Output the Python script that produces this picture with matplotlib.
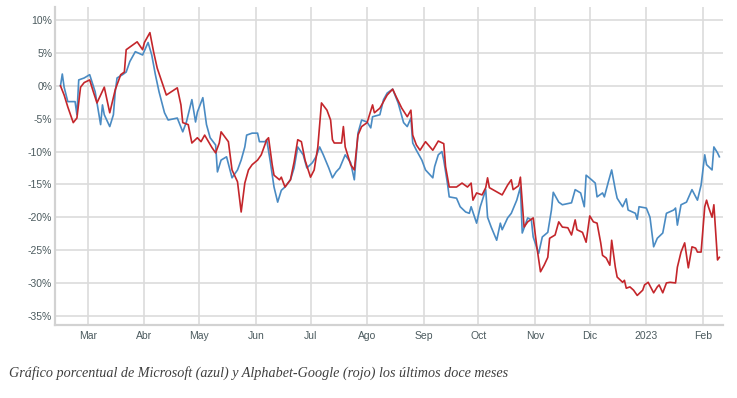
import matplotlib
matplotlib.use("Agg")
import matplotlib.pyplot as plt  # noqa: E402
import pandas as pd  # noqa: E402

# ── Data (percent change since start) ───────────────────────────────

MSFT_DATES = [
    "2022-02-14", "2022-02-15", "2022-02-16", "2022-02-18", "2022-02-22", "2022-02-23",
    "2022-02-24", "2022-02-27", "2022-03-02", "2022-03-05", "2022-03-08", "2022-03-09",
    "2022-03-10", "2022-03-13", "2022-03-15", "2022-03-16", "2022-03-17", "2022-03-20",
    "2022-03-22", "2022-03-24", "2022-03-27", "2022-03-31", "2022-04-03", "2022-04-05",
    "2022-04-07", "2022-04-09", "2022-04-12", "2022-04-14", "2022-04-19", "2022-04-22",
    "2022-04-24", "2022-04-27", "2022-04-29", "2022-04-30", "2022-05-03", "2022-05-05",
    "2022-05-07", "2022-05-10", "2022-05-11", "2022-05-13", "2022-05-16", "2022-05-19",
    "2022-05-22", "2022-05-24", "2022-05-26", "2022-05-27", "2022-05-30", "2022-06-02",
    "2022-06-03", "2022-06-06", "2022-06-07", "2022-06-09", "2022-06-11", "2022-06-13",
    "2022-06-15", "2022-06-17", "2022-06-20", "2022-06-22", "2022-06-24", "2022-06-27",
    "2022-06-29", "2022-07-02", "2022-07-04", "2022-07-06", "2022-07-08", "2022-07-11",
    "2022-07-13", "2022-07-15", "2022-07-17", "2022-07-20", "2022-07-23", "2022-07-25",
    "2022-07-27", "2022-07-29", "2022-08-01", "2022-08-03", "2022-08-04", "2022-08-08",
    "2022-08-10", "2022-08-12", "2022-08-15", "2022-08-18", "2022-08-21", "2022-08-23",
    "2022-08-25", "2022-08-26", "2022-08-28", "2022-08-31", "2022-09-02", "2022-09-06",
    "2022-09-07", "2022-09-09", "2022-09-11", "2022-09-12", "2022-09-14", "2022-09-15",
    "2022-09-19", "2022-09-21", "2022-09-24", "2022-09-26", "2022-09-27", "2022-09-30",
    "2022-10-02", "2022-10-05", "2022-10-06", "2022-10-08", "2022-10-11", "2022-10-13",
    "2022-10-14", "2022-10-17", "2022-10-19", "2022-10-22", "2022-10-24", "2022-10-25",
    "2022-10-28", "2022-10-30", "2022-10-31", "2022-11-03", "2022-11-05", "2022-11-08",
    "2022-11-10", "2022-11-11", "2022-11-14", "2022-11-16", "2022-11-21", "2022-11-23",
    "2022-11-26", "2022-11-28", "2022-11-29", "2022-12-02", "2022-12-04", "2022-12-05",
    "2022-12-08", "2022-12-09", "2022-12-11", "2022-12-13", "2022-12-15", "2022-12-16",
    "2022-12-19", "2022-12-21", "2022-12-22", "2022-12-26", "2022-12-27", "2022-12-28",
    "2023-01-01", "2023-01-03", "2023-01-05", "2023-01-07", "2023-01-10", "2023-01-12",
    "2023-01-16", "2023-01-17", "2023-01-18", "2023-01-20", "2023-01-23", "2023-01-26",
    "2023-01-29", "2023-01-31", "2023-02-02", "2023-02-03", "2023-02-06", "2023-02-07",
    "2023-02-09", "2023-02-10",
]
MSFT_PCT = [
    0.0, 1.8, -0.2, -2.4, -2.4, -4.4,
    0.9, 1.2, 1.7, -0.9, -5.9, -2.9,
    -4.4, -6.2, -4.4, -0.9, 1.2, 1.7,
    2.1, 3.7, 5.2, 4.7, 6.6, 4.7,
    1.7, -0.9, -4.1, -5.2, -4.9, -7.0,
    -5.5, -2.1, -5.5, -4.0, -1.8, -5.9,
    -7.9, -9.0, -13.1, -11.3, -10.8, -14.0,
    -12.8, -11.3, -9.3, -7.5, -7.2, -7.2,
    -8.5, -8.5, -8.2, -11.6, -15.4, -17.7,
    -15.9, -15.4, -14.3, -12.5, -9.3, -10.5,
    -12.5, -11.7, -10.8, -9.3, -10.5, -12.5,
    -14.0, -13.1, -12.5, -10.5, -11.7, -14.3,
    -7.2, -5.2, -5.5, -6.4, -4.7, -4.4,
    -2.1, -1.1, -0.5, -2.6, -5.6, -6.2,
    -4.9, -8.7, -9.8, -11.3, -12.8, -14.0,
    -12.3, -10.5, -10.0, -11.3, -14.8, -16.9,
    -17.1, -18.4, -19.2, -19.4, -18.4, -20.9,
    -18.4, -15.8, -20.0, -21.5, -23.5, -20.9,
    -21.9, -20.1, -19.4, -17.4, -15.4, -22.4,
    -20.1, -20.4, -23.0, -25.5, -23.0, -22.3,
    -18.9, -16.2, -17.7, -18.1, -17.8, -15.8,
    -16.3, -18.4, -13.6, -14.3, -14.8, -16.9,
    -16.3, -16.9, -14.8, -12.8, -15.8, -17.1,
    -18.4, -17.2, -18.9, -19.4, -20.3, -18.4,
    -18.6, -20.0, -24.5, -23.2, -22.4, -19.4,
    -18.9, -18.6, -21.2, -18.1, -17.7, -15.8,
    -17.4, -15.1, -10.5, -12.0, -12.8, -9.3,
    -10.2, -10.8,
]

GOOGL_DATES = [
    "2022-02-14", "2022-02-16", "2022-02-18", "2022-02-21", "2022-02-23", "2022-02-25",
    "2022-02-27", "2022-03-02", "2022-03-04", "2022-03-06", "2022-03-10", "2022-03-13",
    "2022-03-16", "2022-03-19", "2022-03-21", "2022-03-22", "2022-03-28", "2022-03-31",
    "2022-04-01", "2022-04-04", "2022-04-06", "2022-04-08", "2022-04-13", "2022-04-19",
    "2022-04-21", "2022-04-22", "2022-04-25", "2022-04-27", "2022-04-30", "2022-05-02",
    "2022-05-04", "2022-05-08", "2022-05-10", "2022-05-12", "2022-05-13", "2022-05-17",
    "2022-05-19", "2022-05-22", "2022-05-24", "2022-05-26", "2022-05-28", "2022-05-30",
    "2022-06-02", "2022-06-04", "2022-06-07", "2022-06-08", "2022-06-10", "2022-06-11",
    "2022-06-14", "2022-06-15", "2022-06-17", "2022-06-20", "2022-06-22", "2022-06-24",
    "2022-06-26", "2022-06-28", "2022-07-01", "2022-07-03", "2022-07-05", "2022-07-07",
    "2022-07-10", "2022-07-12", "2022-07-13", "2022-07-14", "2022-07-18", "2022-07-19",
    "2022-07-20", "2022-07-23", "2022-07-25", "2022-07-26", "2022-07-27", "2022-07-29",
    "2022-08-01", "2022-08-04", "2022-08-05", "2022-08-08", "2022-08-12", "2022-08-15",
    "2022-08-17", "2022-08-20", "2022-08-23", "2022-08-25", "2022-08-26", "2022-08-28",
    "2022-08-30", "2022-09-02", "2022-09-06", "2022-09-09", "2022-09-12", "2022-09-13",
    "2022-09-15", "2022-09-19", "2022-09-22", "2022-09-25", "2022-09-27", "2022-09-28",
    "2022-09-30", "2022-10-03", "2022-10-05", "2022-10-06", "2022-10-07", "2022-10-14",
    "2022-10-17", "2022-10-19", "2022-10-20", "2022-10-23", "2022-10-24", "2022-10-26",
    "2022-10-28", "2022-10-31", "2022-11-02", "2022-11-04", "2022-11-06", "2022-11-08",
    "2022-11-09", "2022-11-12", "2022-11-14", "2022-11-16", "2022-11-19", "2022-11-21",
    "2022-11-23", "2022-11-24", "2022-11-27", "2022-11-29", "2022-12-01", "2022-12-03",
    "2022-12-05", "2022-12-07", "2022-12-08", "2022-12-10", "2022-12-12", "2022-12-13",
    "2022-12-15", "2022-12-16", "2022-12-19", "2022-12-20", "2022-12-21", "2022-12-23",
    "2022-12-25", "2022-12-27", "2022-12-30", "2022-12-31", "2023-01-02", "2023-01-05",
    "2023-01-07", "2023-01-08", "2023-01-10", "2023-01-12", "2023-01-14", "2023-01-17",
    "2023-01-18", "2023-01-20", "2023-01-22", "2023-01-24", "2023-01-26", "2023-01-28",
    "2023-01-29", "2023-01-31", "2023-02-02", "2023-02-03", "2023-02-04", "2023-02-06",
    "2023-02-07", "2023-02-09", "2023-02-10",
]
GOOGL_PCT = [
    0.0, -1.4, -3.2, -5.6, -4.9, -0.2,
    0.5, 0.9, -0.9, -2.6, -0.2, -4.1,
    -0.6, 1.7, 2.1, 5.5, 6.7, 5.5,
    6.6, 8.1, 5.2, 2.7, -1.4, -0.3,
    -2.9, -5.6, -5.9, -8.7, -7.9, -8.5,
    -7.5, -9.4, -10.2, -8.7, -7.0, -8.5,
    -12.8, -14.6, -19.2, -14.8, -12.8, -12.0,
    -11.3, -10.5, -8.2, -7.9, -12.0, -13.6,
    -14.3, -13.9, -15.4, -14.3, -11.6, -8.2,
    -8.5, -11.3, -13.9, -12.8, -9.3, -2.6,
    -3.7, -5.2, -8.2, -8.7, -8.7, -6.2,
    -9.3, -12.0, -12.8, -10.2, -7.5, -6.2,
    -5.6, -2.9, -4.1, -3.4, -1.4, -0.5,
    -1.7, -3.4, -4.7, -3.7, -7.5, -9.0,
    -9.8, -8.5, -9.8, -8.4, -8.8, -12.3,
    -15.4, -15.4, -14.8, -15.4, -14.8, -17.4,
    -16.3, -16.6, -15.5, -14.0, -15.5, -16.6,
    -15.1, -14.3, -15.8, -15.2, -13.9, -21.5,
    -20.7, -20.1, -24.5, -28.3, -27.3, -26.1,
    -23.2, -22.7, -20.7, -21.5, -21.6, -22.7,
    -20.4, -21.9, -22.3, -23.8, -19.8, -20.7,
    -20.9, -23.9, -25.8, -26.2, -27.3, -23.5,
    -27.6, -29.1, -29.9, -29.6, -30.8, -30.6,
    -31.1, -31.9, -31.1, -30.3, -29.9, -31.5,
    -30.6, -30.3, -31.5, -30.0, -29.9, -30.0,
    -27.6, -25.3, -23.9, -27.7, -24.5, -24.7,
    -25.3, -25.3, -18.4, -17.4, -18.4, -20.0,
    -18.1, -26.5, -26.1,
]

MONTH_TICKS = [
    "2022-03-01", "2022-04-01", "2022-05-01", "2022-06-01", "2022-07-01", "2022-08-01",
    "2022-09-01", "2022-10-01", "2022-11-01", "2022-12-01", "2023-01-01", "2023-02-01",
]
MONTH_LABELS = ["Mar", "Abr", "May", "Jun", "Jul", "Ago", "Sep", "Oct", "Nov", "Dic", "2023", "Feb"]
Y_TICKS = [10, 5, 0, -5, -10, -15, -20, -25, -30, -35]
X_RANGE = ["2022-02-11", "2023-02-12"]
Y_RANGE = (-36.4, 12.0)

CAPTION = "Gráfico porcentual de Microsoft (azul) y Alphabet-Google (rojo) los últimos doce meses"

BLUE = "#4a8bc3"
RED = "#c4262b"
GRID = "#dcdcdc"
TEXT = "#4b5a5e"

# ── Plot ────────────────────────────────────────────────────────────

fig = plt.figure(figsize=(7.37, 3.98), dpi=100)
fig.patch.set_facecolor("white")
ax = fig.add_axes([55 / 737, 73 / 398, 668 / 737, 318 / 398])

ax.plot(pd.to_datetime(MSFT_DATES), MSFT_PCT, color=BLUE, linewidth=1.2, zorder=3)
ax.plot(pd.to_datetime(GOOGL_DATES), GOOGL_PCT, color=RED, linewidth=1.2, zorder=4)

ax.set_xlim(pd.to_datetime(X_RANGE[0]), pd.to_datetime(X_RANGE[1]))
ax.set_ylim(*Y_RANGE)

ax.set_xticks(pd.to_datetime(MONTH_TICKS))
ax.set_xticklabels(MONTH_LABELS)
ax.set_yticks(Y_TICKS)
ax.set_yticklabels([f"{v}%" for v in Y_TICKS])

for lbl in ax.get_xticklabels() + ax.get_yticklabels():
    lbl.set_family("Liberation Sans")
    lbl.set_fontsize(7.5)
    lbl.set_color(TEXT)
ax.tick_params(axis="both", length=0)
ax.tick_params(axis="y", pad=2)
ax.tick_params(axis="x", pad=4)

ax.grid(True, color=GRID, linewidth=1.2, zorder=0)
ax.set_axisbelow(True)
for side in ("top", "right"):
    ax.spines[side].set_visible(False)
for side in ("left", "bottom"):
    ax.spines[side].set_color("#d2d2d2")
    ax.spines[side].set_linewidth(1.6)

fig.text(9 / 737, 1 - 373 / 398, CAPTION, family="Liberation Serif", style="italic",
         fontsize=10.2, color="#3f3f3f", ha="left", va="center")

fig.savefig("out.png", dpi=100, facecolor="white")
plt.close(fig)
